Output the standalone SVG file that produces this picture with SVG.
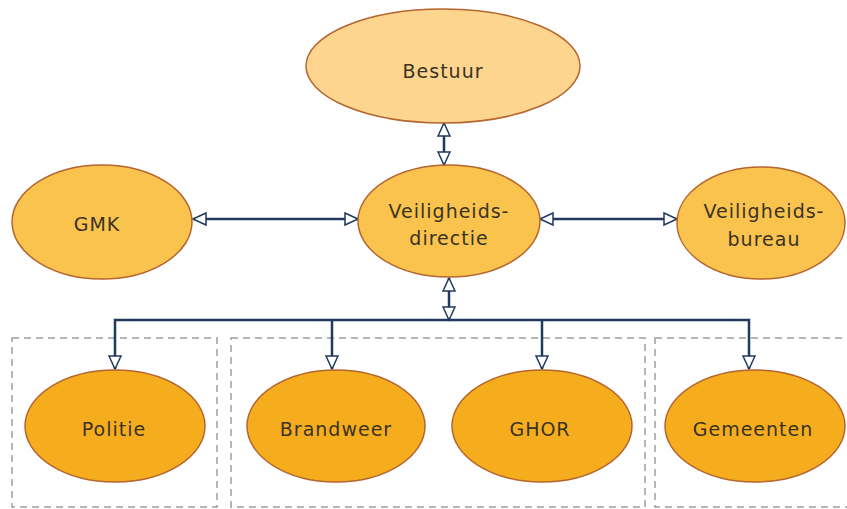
<svg xmlns="http://www.w3.org/2000/svg" width="847" height="509" viewBox="0 0 847 509">
<style>
.n ellipse{stroke:#b5652e;stroke-width:1.5}
.l1{fill:#fdd58f}
.l2{fill:#f9c34e}
.l3{fill:#f6ad1d}
text{font-family:"DejaVu Sans","Verdana",sans-serif;font-size:19px;letter-spacing:1px;fill:#3a3324;text-anchor:middle}
.c line,.c polyline{stroke:#1f3a5c;stroke-width:2.5;fill:none}
.box{fill:none;stroke:#9a9ea4;stroke-width:1.5;stroke-dasharray:7 5}
</style>
<defs>
<marker id="a" markerUnits="userSpaceOnUse" markerWidth="16" markerHeight="16" refX="14" refY="7" orient="auto-start-reverse">
<path d="M1,1 L14,7 L1,13 z" fill="#fff" stroke="#1f3a5c" stroke-width="1.5"/>
</marker>
</defs>
<rect width="847" height="509" fill="#fff"/>
<g id="groups">
<rect class="box" x="12" y="338" width="205" height="169"/>
<rect class="box" x="231" y="338" width="414" height="169"/>
<rect class="box" x="655" y="338" width="200" height="169"/>
</g>
<g class="c" id="connectors">
<line x1="444" y1="123" x2="444" y2="165" marker-start="url(#a)" marker-end="url(#a)"/>
<line x1="193" y1="219" x2="358" y2="219" marker-start="url(#a)" marker-end="url(#a)"/>
<line x1="540" y1="219" x2="677" y2="219" marker-start="url(#a)" marker-end="url(#a)"/>
<line x1="449" y1="278" x2="449" y2="320" marker-start="url(#a)" marker-end="url(#a)"/>
<polyline points="115,369 115,320 749,320 749,369" marker-start="url(#a)" marker-end="url(#a)"/>
<line x1="332" y1="320" x2="332" y2="369" marker-end="url(#a)"/>
<line x1="542" y1="320" x2="542" y2="369" marker-end="url(#a)"/>
</g>
<g class="n" id="bestuur"><ellipse class="l1" cx="443" cy="66" rx="137" ry="57"/><text x="443" y="78">Bestuur</text></g>
<g class="n" id="gmk"><ellipse class="l2" cx="102" cy="222" rx="90" ry="57"/><text x="97" y="231">GMK</text></g>
<g class="n" id="veiligheidsdirectie"><ellipse class="l2" cx="449" cy="221" rx="91" ry="56"/><text x="449" y="218">Veiligheids-</text><text x="449" y="245">directie</text></g>
<g class="n" id="veiligheidsbureau"><ellipse class="l2" cx="761" cy="223" rx="84" ry="56"/><text x="764" y="218">Veiligheids-</text><text x="764" y="246">bureau</text></g>
<g class="n" id="politie"><ellipse class="l3" cx="115" cy="426" rx="90" ry="56"/><text x="114" y="436">Politie</text></g>
<g class="n" id="brandweer"><ellipse class="l3" cx="336" cy="426" rx="89" ry="56"/><text x="336" y="436">Brandweer</text></g>
<g class="n" id="ghor"><ellipse class="l3" cx="542" cy="426" rx="90" ry="56"/><text x="540" y="436">GHOR</text></g>
<g class="n" id="gemeenten"><ellipse class="l3" cx="755" cy="426" rx="90" ry="56"/><text x="753" y="436">Gemeenten</text></g>
</svg>
